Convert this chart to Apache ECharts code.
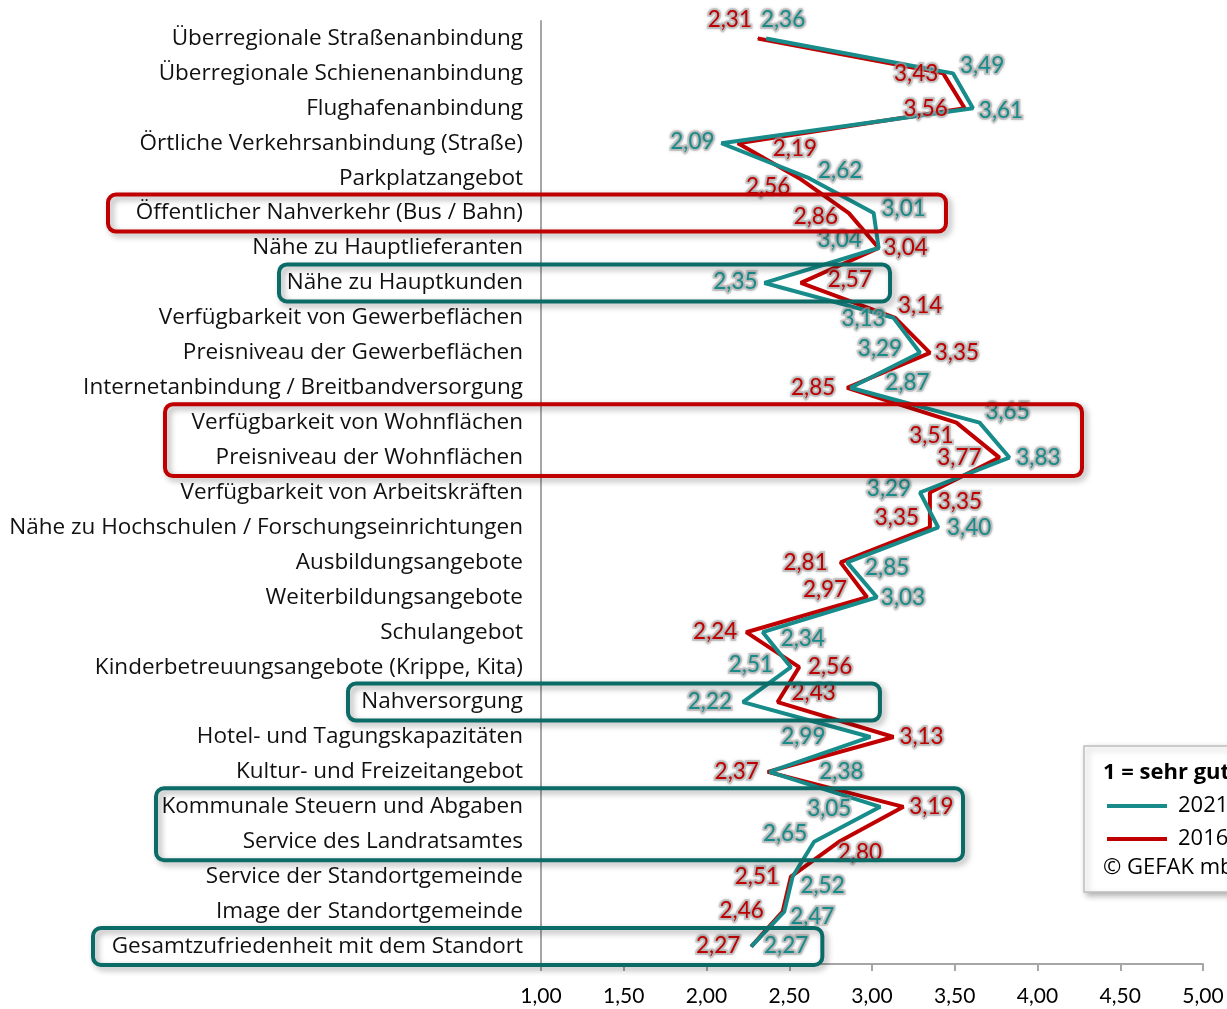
<!DOCTYPE html>
<html><head><meta charset="utf-8">
<script src="https://cdn.jsdelivr.net/npm/echarts@6.0.0/dist/echarts.min.js"></script>
<style>html,body{margin:0;padding:0;background:#fff}#c{width:1227px;height:1009px}</style>
</head><body><div id="c"></div>
<script>
const categories = [
  'Überregionale Straßenanbindung',
  'Überregionale Schienenanbindung',
  'Flughafenanbindung',
  'Örtliche Verkehrsanbindung (Straße)',
  'Parkplatzangebot',
  'Öffentlicher Nahverkehr (Bus / Bahn)',
  'Nähe zu Hauptlieferanten',
  'Nähe zu Hauptkunden',
  'Verfügbarkeit von Gewerbeflächen',
  'Preisniveau der Gewerbeflächen',
  'Internetanbindung / Breitbandversorgung',
  'Verfügbarkeit von Wohnflächen',
  'Preisniveau der Wohnflächen',
  'Verfügbarkeit von Arbeitskräften',
  'Nähe zu Hochschulen / Forschungseinrichtungen',
  'Ausbildungsangebote',
  'Weiterbildungsangebote',
  'Schulangebot',
  'Kinderbetreuungsangebote (Krippe, Kita)',
  'Nahversorgung',
  'Hotel- und Tagungskapazitäten',
  'Kultur- und Freizeitangebot',
  'Kommunale Steuern und Abgaben',
  'Service des Landratsamtes',
  'Service der Standortgemeinde',
  'Image der Standortgemeinde',
  'Gesamtzufriedenheit mit dem Standort'
];
const values2021 = [2.36,3.49,3.61,2.09,2.62,3.01,3.04,2.35,3.13,3.29,2.87,3.65,3.83,3.29,3.40,2.85,3.03,2.34,2.51,2.22,2.99,2.38,3.05,2.65,2.52,2.47,2.27];
const values2016 = [2.31,3.43,3.56,2.19,2.56,2.86,3.04,2.57,3.14,3.35,2.85,3.51,3.77,3.35,3.35,2.81,2.97,2.24,2.56,2.43,3.13,2.37,3.19,2.80,2.51,2.46,2.27];
const seriesNames = ['2021','2016'];
const xTicks = {min:1, max:5, interval:0.5};
const legendTitle = '1 = sehr gut; 5 = sehr schlecht';
const copyrightText = '© GEFAK mbH';

// label offsets (dx, dy) from each point, in pixels
const labelOffsets2021 = [[17,-19],[29,-8],[28,2],[-29,-1],[31,-7],[30,-4],[-39,-8],[-29,-1],[-30,1],[-40,-4],[57,-5],[28,-11],[29,0],[-31,-4],[31,0],[40,5],[26,0],[40,7],[-40,-2],[-33,0],[-67,0],[72,0],[-51,2],[-29,-8],[30,9],[28,5],[35,-1]];
const labelOffsets2016 = [[-28,-19],[-27,0],[-39,0],[57,6],[-31,9],[-33,4],[27,0],[49,-3],[25,-12],[27,0],[-34,0],[-25,13],[-40,0],[30,9],[-33,-10],[-35,0],[-42,-8],[-31,0],[31,0],[36,-9],[28,0],[-31,0],[28,0],[21,11],[-34,0],[-41,-1],[-33,-1]];

const TEAL = '#178c8a', RED = '#c00000', TEAL_BOX = '#0b6b67';
// highlight boxes: category index range, left pixel, right edge in axis value
const boxes = [
  {from:5, to:5, left:108, right:3.447, color:RED},
  {from:7, to:7, left:279, right:3.109, color:TEAL_BOX},
  {from:11, to:12, left:165, right:4.269, color:RED},
  {from:19, to:19, left:348, right:3.048, color:TEAL_BOX},
  {from:22, to:23, left:156, right:3.55, color:TEAL_BOX},
  {from:26, to:26, left:93, right:2.70, color:TEAL_BOX}
];

const FONT = 'Open Sans';
const NUMFONT = 'Lato';
const fmt = v => v.toFixed(2).replace('.', ',');
const glow = {textBorderColor:'rgba(175,175,175,0.55)', textBorderWidth:4, textShadowColor:'rgba(120,120,120,0.5)', textShadowBlur:3};

function mkSeries(name, vals, offs, color) {
  return {
    type:'line', name:name,
    data: vals.map((v,i)=>({value:v, label:{offset:offs[i]}})),
    symbol:'circle', symbolSize:1, showSymbol:true,
    lineStyle:{width:4, color:color}, itemStyle:{color:color},
    emphasis:{disabled:true},
    label:Object.assign({show:true, position:'inside', fontFamily:NUMFONT, fontSize:22.5, color:color,
      formatter:p=>fmt(vals[p.dataIndex])}, glow),
    z:3
  };
}

const chart = echarts.init(document.getElementById('c'));
chart.setOption({
  animation:false,
  backgroundColor:'#fff',
  grid:{left:541, right:24, top:21, bottom:45, containLabel:false},
  xAxis:{type:'value', min:xTicks.min, max:xTicks.max, interval:xTicks.interval,
    splitLine:{show:false},
    axisLine:{show:true, lineStyle:{color:'#a6a6a6', width:2}},
    axisTick:{show:true, length:7, lineStyle:{color:'#a6a6a6', width:2}},
    axisLabel:{formatter:fmt, fontFamily:NUMFONT, fontSize:21, color:'#000', margin:22}},
  yAxis:{type:'category', inverse:true, data:categories, boundaryGap:true,
    axisLine:{show:true, lineStyle:{color:'#a6a6a6', width:2}},
    axisTick:{show:false},
    axisLabel:{fontFamily:FONT, fontSize:22.5, color:'#111', margin:18}},
  legend:{data:seriesNames, orient:'vertical', left:1107, top:795, padding:0, icon:'rect', itemWidth:60, itemHeight:4,
    itemGap:11, textStyle:{fontFamily:FONT, fontSize:22, color:'#000', lineHeight:22, padding:[0,0,0,6]},
    selectedMode:false, z:20},
  series:[
    mkSeries(seriesNames[1], values2016, labelOffsets2016, RED),
    mkSeries(seriesNames[0], values2021, labelOffsets2021, TEAL)
  ]
});

const els = [];
boxes.forEach(b=>{
  const yTop = chart.convertToPixel({yAxisIndex:0}, categories[b.from]) - 18.5;
  const yBot = chart.convertToPixel({yAxisIndex:0}, categories[b.to]) + 18.5;
  const xR = chart.convertToPixel({xAxisIndex:0}, b.right);
  els.push({type:'rect', z:10, silent:true,
    shape:{x:b.left, y:yTop, width:xR-b.left, height:yBot-yTop, r:8},
    style:{fill:null, stroke:b.color, lineWidth:4, shadowBlur:6, shadowOffsetX:3, shadowOffsetY:3, shadowColor:'rgba(0,0,0,0.35)'}});
});
els.push({type:'rect', z:10, silent:true, shape:{x:1084, y:746, width:200, height:146},
  style:{fill:'#fff', stroke:'#bfbfbf', lineWidth:1.5, shadowBlur:6, shadowOffsetX:3, shadowOffsetY:3, shadowColor:'rgba(0,0,0,0.3)'}});
els.push({type:'text', z:11, silent:true, style:{x:1103, y:773, text:legendTitle, fontFamily:FONT, fontSize:22, fontWeight:'bold', fill:'#000', verticalAlign:'middle'}});
els.push({type:'text', z:11, silent:true, style:{x:1103, y:868, text:copyrightText, fontFamily:FONT, fontSize:22, fill:'#000', verticalAlign:'middle'}});
chart.setOption({graphic:{elements:els}});
</script></body></html>
